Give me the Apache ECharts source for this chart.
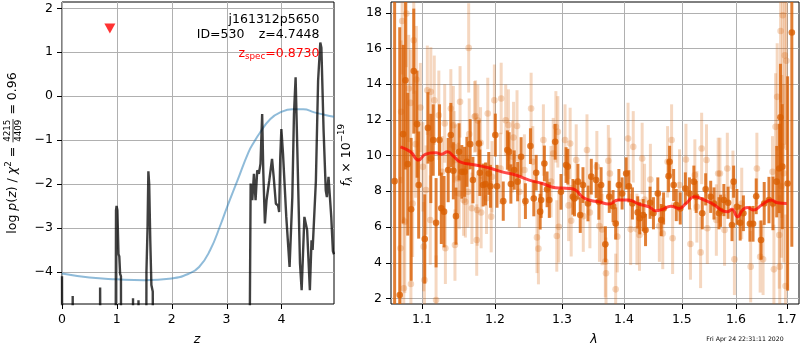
<!DOCTYPE html>
<html><head><meta charset="utf-8">
<script src="https://cdn.jsdelivr.net/npm/echarts@6/dist/echarts.min.js"></script>
<style>html,body{margin:0;padding:0;background:#fff}#c{width:800px;height:350px}</style>
</head><body><div id="c"></div>
<script>
// ---------- data: left panel ----------
const pzZ = [0,0.01,0.19,0.195,0.21,0.215,0.69,0.695,0.71,0.715,
  0.97,0.985,0.995,1.01,1.03,1.045,1.06,1.075,1.08,
  1.29,1.295,1.305,1.31,1.39,1.395,1.41,1.415,
  1.53,1.54,1.56,1.575,1.59,1.61,1.63,1.655,1.665,
  3.40,3.44,3.47,3.50,3.53,3.56,3.59,3.62,3.65,3.67,3.70,3.73,3.78,3.83,3.86,3.90,3.94,3.96,3.98,4.00,4.03,4.09,4.15,4.20,4.23,4.26,4.29,4.34,4.37,4.42,4.44,4.47,4.52,4.55,4.57,4.63,4.67,4.71,4.73,4.77,4.81,4.83,4.86,4.88,4.91,4.94,4.96];
const pzLog = [-4.1,-10,-10,-4.55,-4.55,-10,-10,-4.36,-4.36,-10,
  -10,-2.6,-2.5,-2.6,-3.6,-3.65,-4.05,-4.1,-10,
  -10,-4.6,-4.6,-10,-10,-4.65,-4.65,-10,
  -10,-4.0,-3.0,-1.71,-2.0,-3.3,-4.3,-4.45,-10,
  -10,-1.99,-2.37,-1.77,-2.37,-1.69,-1.77,-1.54,-0.41,-1.69,-2.90,-2.37,-1.92,-1.43,-1.84,-2.45,-2.49,-2.64,-1.39,-0.75,-1.31,-2.75,-3.89,-2.30,-0.41,0.43,-1.16,-3.81,-4.42,-2.75,-2.75,-3.05,-4.42,-3.28,-3.5,-1.92,0.35,1.22,1.1,-0.78,-2.15,-2.30,-1.84,-2.2,-2.75,-3.53,-3.6];
const priorZ = [0,0.5,1.0,1.5,2.0,2.3,2.5,2.7,2.9,3.0,3.2,3.4,3.5,3.6,3.8,4.0,4.2,4.4,4.6,4.8,4.96];
const priorLog = [-4.04,-4.13,-4.17,-4.19,-4.15,-4.05,-3.89,-3.51,-2.90,-2.56,-1.92,-1.28,-1.05,-0.85,-0.52,-0.36,-0.30,-0.30,-0.37,-0.43,-0.47];
const zSpec = [0.873, 1.54];
const zTicks = [0,1,2,3,4];
const logpTicks = [-4,-3,-2,-1,0,1,2];

// ---------- data: right panel ----------
const darkLam = [1.0646,1.0711,1.0755,1.0784,1.0814,1.0858,1.0892,1.0935,1.0956,1.1036,1.1078,1.1116,1.1148,1.1186,1.1232,1.1256,1.1293,1.1349,1.1385,1.1419,1.1455,1.1497,1.1535,1.1573,1.1605,1.1651,1.1689,1.1773,1.1786,1.1832,1.1866,1.1912,1.1936,1.2006,1.2030,1.2120,1.2180,1.2205,1.2231,1.2280,1.2330,1.2381,1.2445,1.2520,1.2570,1.2606,1.2666,1.2681,1.2730,1.2771,1.2805,1.2895,1.2985,1.3064,1.3091,1.3171,1.3196,1.3250,1.3287,1.3330,1.3410,1.3463,1.3542,1.3585,1.3622,1.3691,1.3755,1.3818,1.3861,1.3914,1.3968,1.4035,1.4081,1.4141,1.4230,1.4265,1.4323,1.4364,1.4442,1.4500,1.4576,1.4636,1.4677,1.4765,1.4783,1.4854,1.4901,1.4972,1.5063,1.5137,1.5217,1.5259,1.5370,1.5433,1.5526,1.5587,1.5680,1.5711,1.5772,1.5852,1.5926,1.5957,1.6019,1.6082,1.6144,1.6270,1.6331,1.6393,1.6487,1.6550,1.6644,1.6724,1.6799,1.6850,1.6874,1.6912,1.7019,1.7105];
const darkFlux = [8.56,2.18,11.19,14.21,9.51,6.98,14.72,11.75,8.34,5.32,11.54,9.83,10.86,6.23,10.86,7.04,6.85,9.18,11.14,9.14,6.6,10.2,9.08,9.08,9.64,10.63,8.62,10.67,9.03,8.34,8.4,8.99,8.27,11.14,8.27,7.44,10.3,10.2,8.4,9.18,8.53,9.92,7.44,10.52,7.59,9.03,6.85,7.5,9.55,8.1,7.5,10.76,7.96,9.46,9.37,7.68,7.59,8.53,6.66,8.34,7.31,8.81,8.62,7.4,8.34,5.02,7.68,7.16,6.19,8.34,7.87,8.99,8.27,7.31,6.81,6.48,6.66,5.82,7.35,6.76,7.87,6.38,7.03,8.84,9.64,8.34,7.22,7.03,8.15,7.87,8.53,7.68,6.76,8.1,7.68,7.31,6.76,6.9,7.5,7.35,6.1,8.53,7.12,6.23,6.76,6.17,6.17,7.71,5.26,7.31,7.5,7.31,8.53,9.27,12.13,9.37,8.43,16.88];
const darkErr = [15,15,5,5,4,4,3.5,3,3,2.5,2,2.5,2,2.5,2,2,2,1.8,1.8,1.6,1.6,1.6,1.5,1.4,1.4,1.4,1.3,1.3,1.3,1.2,1.2,1.2,1.2,1.2,1.2,1.1,1.1,1.1,1.1,1.1,1.1,1.1,1.0,1.0,1.0,1.0,1.0,1.0,1.0,1.0,1.0,1.0,1.0,1.0,1.0,1.0,1.0,1.0,1.0,1.0,1.0,1.0,1.0,1.0,1.0,1.0,0.9,0.9,0.9,0.9,0.9,0.9,0.9,0.9,0.9,0.9,0.9,0.9,0.9,0.9,0.9,0.9,0.9,0.9,0.9,0.9,0.9,0.9,0.9,0.9,0.9,0.9,0.9,0.9,0.9,0.9,0.9,0.9,0.9,0.9,0.9,0.9,1.0,1.0,1.0,1.0,1.0,1.0,1.1,1.2,1.3,1.5,2,2.5,3,3.5,6,12];

const lightLam = [1.0742,1.0797,1.0892,1.0926,1.0827,1.0729,1.0849,1.0978,1.1070,1.1116,1.1162,1.1223,1.1302,1.1385,1.1419,1.1511,1.1637,1.1712,1.1619,1.1675,1.1559,1.1584,1.1500,1.1441,1.1311,1.1109,1.1022,1.1032,1.0720,1.0763,1.0855,1.0776,1.0877,1.0917,1.1011,1.1053,1.1186,1.1430,1.1267,1.1486,1.1630,1.1451,1.1726,1.1758,1.1796,1.1898,1.1992,1.2090,1.2156,1.2195,1.2270,1.2321,1.2530,1.2715,1.2906,1.1749,1.1804,1.1742,1.1947,1.1880,1.2356,1.2618,1.2640,1.2920,1.1958,1.2081,1.2430,1.2555,1.2831,1.2255,1.2865,1.2936,1.3048,1.3128,1.3223,1.3394,1.3553,1.3740,1.3766,1.4067,1.4155,1.2951,1.3144,1.3104,1.3595,1.3638,1.3691,1.3702,1.3861,1.3888,1.4111,1.4217,1.3335,1.3441,1.4306,1.4447,1.4818,1.4747,1.5074,1.5235,1.5359,1.5448,1.5665,1.4261,1.4603,1.4662,1.4836,1.5155,1.5340,1.5463,1.4347,1.4959,1.5272,1.5631,1.5698,1.5837,1.5944,1.5785,1.5972,1.6112,1.6285,1.6406,1.6470,1.6528,1.6715,1.6743,1.6850,1.6808,1.6776,1.6860,1.6877,1.6921,1.6963,1.6995,1.6902,1.6940,1.6977,1.6893];
const lightFlux = [17.53,17.94,16.45,14.25,13.75,12.44,12.94,12.68,13.65,13.56,13.09,12.25,11.79,12.63,11.69,13.0,11.19,12.16,7.96,7.04,7.5,7.4,7.87,4.98,4.8,6.38,4.89,3.02,4.8,2.56,2.8,6.29,7.31,10.63,9.36,8.06,1.9,10.48,9.08,8.71,16.02,9.74,12.2,11.95,10.7,12.35,13.09,13.19,11.97,11.7,11.0,11.65,12.63,10.86,11.6,6.94,6.8,5.26,6.57,7.6,7.96,5.41,4.78,5.49,8.8,9.27,9.18,9.64,8.53,9.92,10.1,11.32,10.86,10.67,9.74,10.3,9.37,9.7,8.99,10.95,10.48,6.0,6.34,7.2,6.04,5.85,4.05,3.4,2.5,5.45,5.86,5.86,6.6,6.8,9.83,8.65,10.86,9.64,9.77,8.9,10.39,9.74,8.99,5.54,6.04,5.63,5.36,5.04,4.57,5.92,7.53,8.34,7.12,6.38,8.99,9.27,8.27,5.82,4.18,7.31,3.77,9.27,4.32,4.18,9.08,3.62,5.54,13.28,11.6,3.77,16.97,17.85,15.6,15.3,10.5,9.0,2.69,8.27];
const lightErr = [3,3,3,3,3,4,3,2.5,2.5,2.5,2.5,2.5,2.2,2.2,2.2,2,2,2,2,2,2,2,2,2,2,2.5,2.5,2.5,4,4,4,4,3,3,2.5,2.5,2.5,2,2,2,2.5,2,2,2,2,2,2,2,2,2,2,2,2,2,2,2,2,2,2,2,2,2,2,2,2,2,2,2,2,2,2,2,2,2,2,2,2,2,2,2,2,2,2,2,2,2,2,2,2,2,2,2,2,2,2,2,2,2,2,2,2,2,2,2,2,2,2,2,2,2,2,2,2,2,2,2,2,2,2,2,2,2,2,2,2,2.5,3,3,3,4,4,5,5,5,4,5,4,4];

const modelLam = [1.0720,1.0849,1.0956,1.1046,1.1186,1.1256,1.1339,1.1419,1.1511,1.1721,1.1908,1.2100,1.2300,1.2501,1.2700,1.2900,1.3107,1.3212,1.3319,1.3426,1.3585,1.3745,1.3904,1.4071,1.4247,1.4424,1.4541,1.4659,1.4806,1.4954,1.5074,1.5229,1.5383,1.5568,1.5753,1.5845,1.5925,1.6032,1.6125,1.6219,1.6344,1.6500,1.6687,1.6813,1.7000];
const modelFlux = [10.48,10.2,9.74,10.07,10.15,10.07,10.2,9.96,9.64,9.46,9.31,9.08,8.9,8.62,8.43,8.19,8.15,8.06,7.68,7.5,7.4,7.28,7.5,7.5,7.28,7.12,6.9,6.98,7.16,7.03,7.31,7.68,7.53,7.28,6.9,6.85,6.98,6.57,6.94,7.09,6.94,7.22,7.5,7.35,7.31];
const lamTicks = [1.1,1.2,1.3,1.4,1.5,1.6,1.7];
const fluxTicks = [2,4,6,8,10,12,14,16,18];

// ---------- helpers ----------
const FF = '"DejaVu Sans", sans-serif';
const FS = 12.5, SS = 8.75;
const mctx = document.createElement('canvas').getContext('2d');
function fnt(size, it){ return (it ? 'italic ' : '') + size + 'px ' + FF; }
function tw(t, size, it){ mctx.font = fnt(size, it); return mctx.measureText(t).width; }
function txt(t, x, y, size, it, color, align){
  return {type:'text', x:x, y:y, z:100, style:{text:t, font:fnt(size,it), fill:color||'#000',
    textAlign:align, textVerticalAlign:'middle', align:align, verticalAlign:'middle'}};
}
function buildMath(parts, anchor){
  let total = 0;
  parts.forEach(p => {
    p.size = p.size || FS;
    if (p.frac) p.w = Math.max(tw(p.num,p.size), tw(p.den,p.size)) + 2;
    else p.w = tw(p.t, p.size, p.it);
    total += p.w;
  });
  let x = anchor === 'center' ? -total/2 : anchor === 'right' ? -total : 0;
  const ch = [];
  parts.forEach(p => {
    if (p.frac) {
      const cx = x + p.w/2;
      ch.push(txt(p.num, cx, -p.size*0.6, p.size, false, p.color, 'center'));
      ch.push(txt(p.den, cx, p.size*0.65, p.size, false, p.color, 'center'));
      ch.push({type:'line', z:100, shape:{x1:x+0.5, y1:0, x2:x+p.w-0.5, y2:0}, style:{stroke:p.color||'#000', lineWidth:0.8}});
    } else ch.push(txt(p.t, x, p.dy||0, p.size, p.it, p.color, 'left'));
    x += p.w;
  });
  return ch;
}
const minusFmt = v => (v < 0 ? '\u2212' : '') + Math.abs(v);

function errSeries(lam, flux, err, color, r, lw){
  return {type:'custom', xAxisIndex:1, yAxisIndex:1, clip:true, silent:true, z:3,
    data: lam.map((l,i) => [l, flux[i], err[i]]),
    renderItem: (params, api) => {
      const x = api.value(0), y = api.value(1), e = api.value(2);
      const p0 = api.coord([x, y - e]), p1 = api.coord([x, y + e]), c = api.coord([x, y]);
      return {type:'group', children:[
        {type:'line', shape:{x1:p0[0], y1:p0[1], x2:p1[0], y2:p1[1]}, style:{stroke:color, lineWidth:lw}},
        {type:'circle', shape:{cx:c[0], cy:c[1], r:r}, style:{fill:color}}
      ]};
    }};
}
// grid lines + outward ticks drawn through the axis scales
function gridSeries(idx, xs, ys, xRef, yRef){
  return {type:'custom', xAxisIndex:idx, yAxisIndex:idx, clip:false, silent:true, z:1,
    data: xs.map(v => [v, yRef, 0]).concat(ys.map(v => [xRef, v, 1])),
    renderItem: (params, api) => {
      const cs = params.coordSys;
      const p = api.coord([api.value(0), api.value(1)]);
      const g = {stroke:'#b0b0b0', lineWidth:1}, k = {stroke:'#000', lineWidth:1};
      if (api.value(2) === 0) {
        const x = Math.round(p[0]) + 0.5, yb = cs.y + cs.height;
        return {type:'group', children:[
          {type:'line', shape:{x1:x, y1:cs.y, x2:x, y2:yb}, style:g},
          {type:'line', shape:{x1:x, y1:yb, x2:x, y2:yb + 5}, style:k}]};
      }
      const y = Math.round(p[1]) + 0.5;
      return {type:'group', children:[
        {type:'line', shape:{x1:cs.x, y1:y, x2:cs.x + cs.width, y2:y}, style:g},
        {type:'line', shape:{x1:cs.x - 5, y1:y, x2:cs.x, y2:y}, style:k}]};
    }};
}

const axLabel = (vals, fmt) => ({customValues:vals, fontSize:FS, fontFamily:FF, color:'#000', margin:9, formatter:fmt});
const noTick = {show:false}, noSplit = {show:false}, noLine = {show:false};

const chart = echarts.init(document.getElementById('c'), null, {renderer:'canvas'});
chart.setOption({
  animation:false,
  backgroundColor:'#fff',
  grid:[
    {left:62, top:2, width:272, height:302, show:true, borderColor:'#000', borderWidth:1, backgroundColor:'transparent'},
    {left:391, top:2, width:408, height:302, show:true, borderColor:'#000', borderWidth:1, backgroundColor:'transparent'}
  ],
  xAxis:[
    {gridIndex:0, type:'value', min:0, max:4.96, axisLine:noLine, axisTick:noTick, axisLabel:axLabel(zTicks, minusFmt), splitLine:noSplit},
    {gridIndex:1, type:'log', logBase:10, min:1.06, max:1.7252, axisLine:noLine, axisTick:noTick, axisLabel:axLabel(lamTicks, v => Number(v).toFixed(1)), splitLine:noSplit}
  ],
  yAxis:[
    {gridIndex:0, type:'value', min:-4.733, max:2.143, axisLine:noLine, axisTick:noTick, axisLabel:axLabel(logpTicks, minusFmt), splitLine:noSplit},
    {gridIndex:1, type:'value', min:1.68, max:18.59, axisLine:noLine, axisTick:noTick, axisLabel:axLabel(fluxTicks, minusFmt), splitLine:noSplit}
  ],
  series:[
    gridSeries(0, zTicks, logpTicks, 1, 0),
    gridSeries(1, lamTicks, fluxTicks, 1.3, 8),
    {type:'line', xAxisIndex:0, yAxisIndex:0, z:3, data:priorZ.map((z,i)=>[z,priorLog[i]]), smooth:true, showSymbol:false, clip:true,
      lineStyle:{color:'rgba(31,119,180,0.5)', width:2}},
    {type:'line', xAxisIndex:0, yAxisIndex:0, z:4, data:pzZ.map((z,i)=>[z,pzLog[i]]), showSymbol:false, clip:true,
      lineStyle:{color:'rgba(0,0,0,0.75)', width:2.4}},
    {type:'scatter', xAxisIndex:0, yAxisIndex:0, z:5, data:[zSpec], symbol:'triangle', symbolRotate:180, symbolSize:[11,10],
      itemStyle:{color:'#ff0000'}},
    errSeries(lightLam, lightFlux, lightErr, 'rgba(217,95,2,0.25)', 3.3, 3),
    errSeries(darkLam, darkFlux, darkErr, 'rgba(217,95,2,0.8)', 3.3, 3),
    {type:'line', xAxisIndex:1, yAxisIndex:1, z:5, data:modelLam.map((l,i)=>[l,modelFlux[i]]), smooth:true, showSymbol:false, clip:true,
      lineStyle:{color:'rgba(255,0,0,0.7)', width:3}}
  ],
  graphic:{elements:[
    {type:'group', x:13, y:153, rotation:Math.PI/2, children:buildMath([
      {t:'log '},{t:'p',it:true},{t:'('},{t:'z',it:true},{t:')'},{t:' / '},{t:'\u03c7',it:true},{t:'2',size:SS,dy:-4.5},{t:' = '},
      {frac:true,num:'4215',den:'4409',size:SS},{t:' = 0.96'}], 'center')},
    {type:'group', x:347, y:155, rotation:Math.PI/2, children:buildMath([
      {t:'f',it:true},{t:'\u03bb',it:true,size:SS,dy:3},{t:' \u00d7 10'},{t:'\u221219',size:SS,dy:-5}], 'center')},
    txt('z', 197, 340, FS, true, '#000', 'center'),
    txt('\u03bb', 594, 340, FS, true, '#000', 'center'),
    txt('j161312p5650', 319.5, 19.5, FS, false, '#000', 'right'),
    txt('ID=530', 196.7, 34.5, FS, false, '#000', 'left'),
    txt('z=4.7448', 319.5, 34.5, FS, false, '#000', 'right'),
    {type:'group', x:319.5, y:53.5, children:buildMath([
      {t:'z',color:'#ff0000'},{t:'spec',size:SS,dy:3,color:'#ff0000'},{t:'=0.8730',color:'#ff0000'}], 'right')},
    txt('Fri Apr 24 22:31:11 2020', 745, 339.5, 6.2, false, '#000', 'center')
  ]}
});
</script>
</body></html>
